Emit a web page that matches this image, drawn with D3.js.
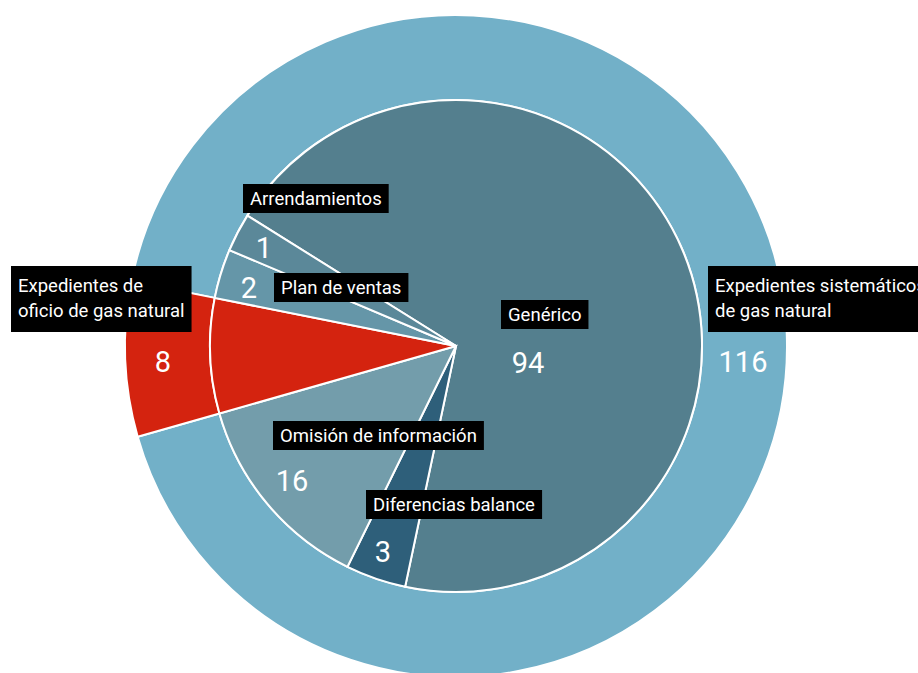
<!DOCTYPE html>
<html>
<head>
<meta charset="utf-8">
<script src="https://cdn.jsdelivr.net/npm/d3@7"></script>
<style>
  html, body { margin: 0; padding: 0; background: #fff; }
  svg { display: block; }
  text { font-family: Roboto, "Open Sans", sans-serif; }
</style>
</head>
<body>
<svg id="chart" width="918" height="673"></svg>
<script>
// ---- data ----
const innerCategories = ["Genérico", "Diferencias balance", "Omisión de información", "Expedientes de oficio de gas natural", "Plan de ventas", "Arrendamientos"];
const innerValues = [94, 3, 16, 8, 2, 1];
const outerCategories = ["Expedientes sistemáticos de gas natural", "Expedientes de oficio de gas natural"];
const outerValues = [116, 8];

// ---- layout / style ----
const W = 918, H = 673;
const cx = 456, cy = 346;
const rOuter = 331, rInner = 246;
const minShare = 2.5;            // visual minimum added to every inner slice
const startAngle = -58 * Math.PI / 180;

const innerColors = ["#547f8e", "#2e5f7a", "#739dab", "#d4230f", "#6596a8", "#5b8899"];
const outerColors = ["#72b0c8", "#d4230f"];

const labelPos = {
  "Genérico": {name: [508, 321], num: [528, 373]},
  "Diferencias balance": {name: [373, 511], num: [383, 562]},
  "Omisión de información": {name: [280, 442], num: [292, 491]},
  "Plan de ventas": {name: [281, 294], num: [249, 298]},
  "Arrendamientos": {name: [250, 205], num: [264, 258]},
  "Expedientes de oficio de gas natural": {lines: ["Expedientes de", "oficio de gas natural"], name: [18, 292], num: [163, 372]},
  "Expedientes sistemáticos de gas natural": {lines: ["Expedientes sistemáticos", "de gas natural"], name: [715, 292], num: [743, 372]}
};

const svg = d3.select("#chart");
const g = svg.append("g").attr("transform", `translate(${cx},${cy})`);

// inner pie
const innerData = innerCategories.map((c, i) => ({cat: c, value: innerValues[i], color: innerColors[i]}));
const pie = d3.pie().sort(null).value(d => d.value + minShare)
  .startAngle(startAngle).endAngle(startAngle + 2 * Math.PI);
const innerArcs = pie(innerData);

// outer ring: the "oficio" segment follows its inner slice; "sistemáticos" covers the rest
const oficio = innerArcs.find(a => a.data.cat === outerCategories[1]);
const outerArcs = [
  {cat: outerCategories[0], value: outerValues[0], color: outerColors[0], startAngle: oficio.endAngle, endAngle: oficio.startAngle + 2 * Math.PI},
  {cat: outerCategories[1], value: outerValues[1], color: outerColors[1], startAngle: oficio.startAngle, endAngle: oficio.endAngle}
];

const arcOuter = d3.arc().innerRadius(rInner).outerRadius(rOuter);
const arcInner = d3.arc().innerRadius(0).outerRadius(rInner);

g.selectAll("path.outer").data(outerArcs).join("path")
  .attr("class", "outer")
  .attr("d", arcOuter)
  .attr("fill", d => d.color)
  .attr("stroke", "#fff").attr("stroke-width", 2).attr("stroke-linejoin", "round");

g.selectAll("path.inner").data(innerArcs).join("path")
  .attr("class", "inner")
  .attr("d", arcInner)
  .attr("fill", d => d.data.color)
  .attr("stroke", "#fff").attr("stroke-width", 2).attr("stroke-linejoin", "miter");

// labels
const labels = svg.append("g");
function addNameLabel(cat) {
  const p = labelPos[cat];
  const lines = p.lines || [cat];
  const grp = labels.append("g");
  const rect = grp.append("rect").attr("fill", "#000");
  const t = grp.append("text").attr("fill", "#fff").attr("font-size", 18.5);
  lines.forEach((l, i) => {
    t.append("tspan").attr("x", p.name[0]).attr("y", p.name[1] + i * 25).text(l);
  });
  const bb = t.node().getBBox();
  const top = p.name[1] - (lines.length > 1 ? 26 : 21);
  const bottom = p.name[1] + (lines.length - 1) * 25 + (lines.length > 1 ? 15 : 8);
  rect.attr("x", p.name[0] - 7).attr("y", top)
      .attr("width", bb.width + 14).attr("height", bottom - top);
}
function addNumber(cat, value) {
  const p = labelPos[cat];
  labels.append("text").attr("x", p.num[0]).attr("y", p.num[1])
    .attr("text-anchor", "middle").attr("fill", "#fff")
    .attr("font-size", 29).attr("font-weight", 400).text(value);
}

innerData.forEach(d => { if (d.cat !== outerCategories[1]) { addNameLabel(d.cat); addNumber(d.cat, d.value); } });
outerCategories.forEach((c, i) => { addNameLabel(c); addNumber(c, outerValues[i]); });
</script>
</body>
</html>
